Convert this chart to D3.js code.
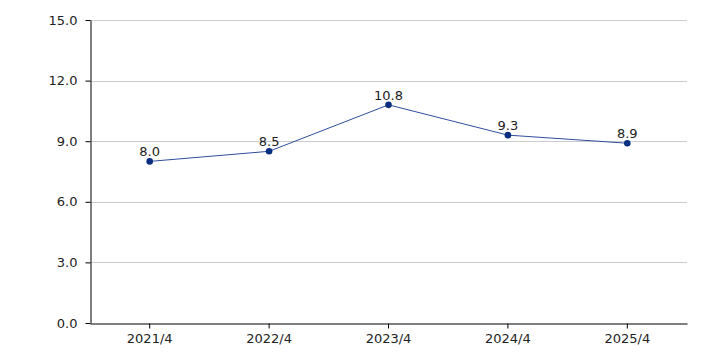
<!DOCTYPE html>
<html>
<head>
<meta charset="utf-8">
<script src="https://cdn.jsdelivr.net/npm/d3@7"></script>
<style>
  body { margin: 0; background: #fff; }
  svg text { font-family: "DejaVu Sans", Verdana, sans-serif; font-size: 13px; fill: #222; }
</style>
</head>
<body>
<svg id="chart" width="706" height="353"></svg>
<script>
var categories = ["2021/4", "2022/4", "2023/4", "2024/4", "2025/4"];
var values = [8.0, 8.5, 10.8, 9.3, 8.9];
var yTicks = [0, 3, 6, 9, 12, 15];

var margin = { top: 20, right: 19, bottom: 30, left: 90 },
    width = 706, height = 353,
    svg = d3.select("#chart");

var x = d3.scaleBand().domain(categories).range([margin.left, width - margin.right]);
var y = d3.scaleLinear().domain([0, 15]).range([height - margin.bottom, margin.top]);

// gridlines
svg.append("g").selectAll("line")
  .data(yTicks.slice(1))
  .enter().append("line")
  .attr("x1", margin.left).attr("x2", width - margin.right)
  .attr("y1", function(d) { return Math.round(y(d)) + 0.5; })
  .attr("y2", function(d) { return Math.round(y(d)) + 0.5; })
  .attr("stroke", "#cccccc");

var yAxis = d3.axisLeft(y).tickValues(yTicks).tickFormat(d3.format(".1f")).tickSize(5).tickSizeOuter(0).tickPadding(8);
var yG = svg.append("g").attr("transform", "translate(" + (margin.left + 0.5) + ",0)").call(yAxis);
yG.selectAll("line, path").attr("stroke", "#000");

var xAxis = d3.axisBottom(x).tickSize(5).tickSizeOuter(0).tickPadding(5);
var xG = svg.append("g").attr("transform", "translate(0," + (Math.round(y(0)) + 0.5) + ")").call(xAxis);
xG.selectAll("line, path").attr("stroke", "#000");
svg.selectAll(".tick text").style("font-size", "13px").attr("fill", "#222");

var cx = function(d, i) { return x(categories[i]) + x.bandwidth() / 2; };

var line = d3.line()
  .x(function(d, i) { return cx(d, i); })
  .y(function(d) { return y(d); });

svg.append("path").datum(values)
  .attr("d", line)
  .attr("fill", "none")
  .attr("stroke", "#2e4f9c")
  .attr("stroke-width", 1);

svg.append("g").selectAll("circle")
  .data(values).enter().append("circle")
  .attr("cx", cx)
  .attr("cy", function(d) { return y(d); })
  .attr("r", 3.3)
  .attr("fill", "#0b2f80");

svg.append("g").selectAll("text")
  .data(values).enter().append("text")
  .attr("x", cx)
  .attr("y", function(d) { return y(d) - 5; })
  .attr("text-anchor", "middle")
  .text(function(d) { return d.toFixed(1); });
</script>
</body>
</html>
